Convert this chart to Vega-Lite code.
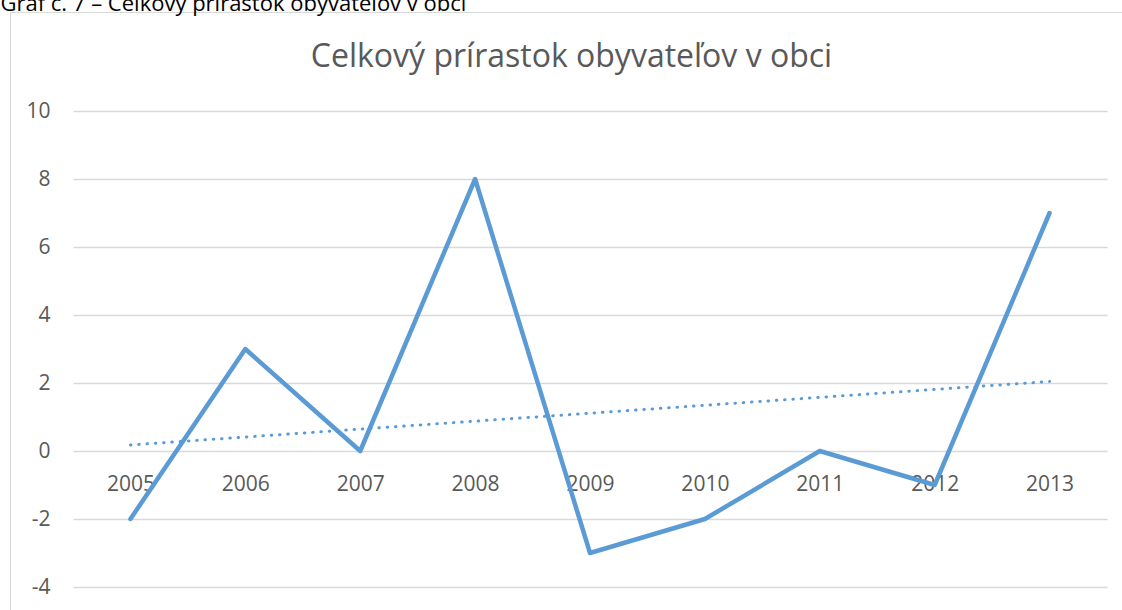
{
  "$schema": "https://vega.github.io/schema/vega-lite/v6.json",
  "autosize": {"type": "none"},
  "padding": {"left": 10, "top": 12, "right": 0, "bottom": 0},
  "width": 1122,
  "height": 600,
  "background": "white",
  "view": {"stroke": "#d9d9d9", "strokeWidth": 1},
  "data": {
    "values": [
      {"year": 2005, "value": -2},
      {"year": 2006, "value": 3},
      {"year": 2007, "value": 0},
      {"year": 2008, "value": 8},
      {"year": 2009, "value": -3},
      {"year": 2010, "value": -2},
      {"year": 2011, "value": 0},
      {"year": 2012, "value": -1},
      {"year": 2013, "value": 7}
    ]
  },
  "encoding": {
    "x": {
      "field": "year",
      "type": "ordinal",
      "scale": {"range": [63, 1097], "paddingInner": 0, "paddingOuter": 0},
      "axis": {
        "orient": "bottom",
        "offset": -161,
        "domain": false,
        "ticks": false,
        "grid": false,
        "labelAngle": 0,
        "labelPadding": 22,
        "labelFont": "Open Sans",
        "labelFontSize": 21,
        "labelColor": "#595959",
        "title": "Celkový prírastok obyvateľov v obci",
        "titleAngle": 0,
        "titleAlign": "center",
        "titleBaseline": "alphabetic",
        "titleX": 561,
        "titleY": -385,
        "titleFont": "Open Sans",
        "titleFontSize": 32,
        "titleFontWeight": "normal",
        "titleColor": "#595959"
      }
    },
    "y": {
      "field": "value",
      "type": "quantitative",
      "scale": {"domain": [-4, 10], "range": [575, 99], "nice": false, "zero": false},
      "axis": {
        "values": [-4, -2, 0, 2, 4, 6, 8, 10],
        "labelExpr": "'' + datum.value",
        "offset": -45,
        "domain": false,
        "ticks": false,
        "grid": true,
        "gridColor": "#d9d9d9",
        "gridWidth": 1.3,
        "labelPadding": 5,
        "labelFont": "Open Sans",
        "labelFontSize": 21,
        "labelColor": "#595959",
        "title": "Graf č. 7 – Celkový prírastok obyvateľov v obci",
        "titleAngle": 0,
        "titleAlign": "left",
        "titleBaseline": "alphabetic",
        "titleX": -55,
        "titleY": -2,
        "titleFont": "Open Sans",
        "titleFontSize": 22,
        "titleFontWeight": "normal",
        "titleColor": "#000000"
      }
    }
  },
  "layer": [
    {
      "mark": {"type": "line", "color": "#5b9bd5", "strokeWidth": 4.5, "strokeCap": "round", "strokeJoin": "round"}
    },
    {
      "transform": [{"regression": "value", "on": "year"}],
      "mark": {"type": "line", "color": "#5b9bd5", "strokeWidth": 3, "strokeDash": [0.5, 7.8], "strokeCap": "round"}
    }
  ]
}
